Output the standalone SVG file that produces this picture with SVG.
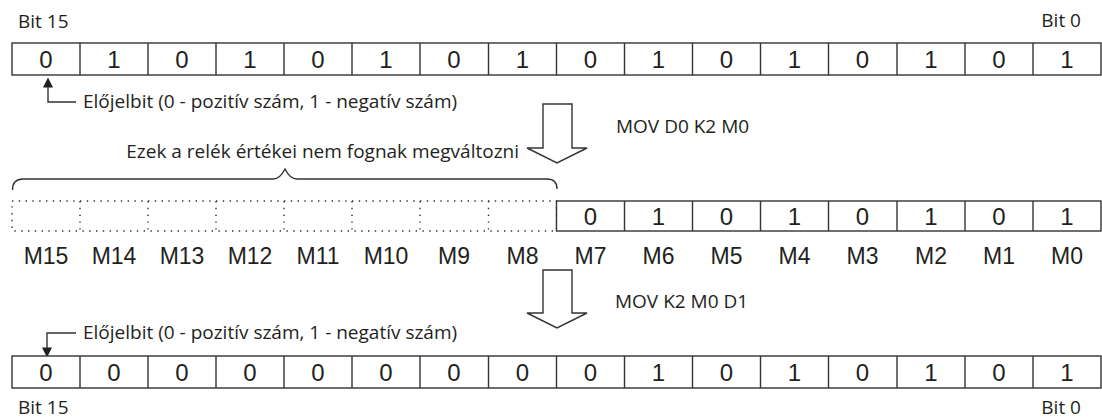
<svg xmlns="http://www.w3.org/2000/svg" width="1102" height="419" viewBox="0 0 1102 419">
<style>
.cell{fill:#fff;stroke:#333;stroke-width:1.4}
.div{stroke:#333;stroke-width:1.4}
.dot{fill:none;stroke:#333;stroke-width:1.4;stroke-dasharray:1.4 5.4}
.d{font-family:"Liberation Sans",Arial,sans-serif;font-size:24px;fill:#231f20;text-anchor:middle}
.m{font-family:"Liberation Sans",Arial,sans-serif;font-size:23px;fill:#231f20;text-anchor:middle}
.l{font-family:"Open Sans","Noto Sans",sans-serif;font-size:19px;fill:#231f20}
.ln{fill:none;stroke:#333;stroke-width:1.4}
.big{fill:#fff;stroke:#333;stroke-width:1.4;stroke-linejoin:miter}
</style>
<defs>
<marker id="ah" viewBox="0 0 10 12" refX="9" refY="6" markerWidth="12" markerHeight="10" markerUnits="userSpaceOnUse" orient="auto">
<path d="M0,0 L12,6 L0,12 z" fill="#231f20"/>
</marker>
</defs>

<g id="labels">
<text class="l" x="18" y="28">Bit 15</text>
<text class="l" x="1081" y="27" text-anchor="end">Bit 0</text>
<text class="l" x="18" y="414">Bit 15</text>
<text class="l" x="1081" y="414" text-anchor="end">Bit 0</text>
</g>

<g id="row-d0">
<rect class="cell" x="12" y="43" width="1089" height="32"/>
<path class="div" d="M80,43V75M148,43V75M216,43V75M284,43V75M352,43V75M420,43V75M488.5,43V75M556.5,43V75M624.5,43V75M692.5,43V75M760.5,43V75M828.5,43V75M897,43V75M965,43V75M1033,43V75"/>
<text class="d" y="68"><tspan x="46">0</tspan><tspan x="114">1</tspan><tspan x="182">0</tspan><tspan x="250">1</tspan><tspan x="318">0</tspan><tspan x="386">1</tspan><tspan x="454">0</tspan><tspan x="522.5">1</tspan><tspan x="590.5">0</tspan><tspan x="658.5">1</tspan><tspan x="726.5">0</tspan><tspan x="794.5">1</tspan><tspan x="862.5">0</tspan><tspan x="931">1</tspan><tspan x="999">0</tspan><tspan x="1067">1</tspan></text>
</g>

<g id="sign-top">
<path class="ln" d="M76,102H48V80" marker-end="url(#ah)"/>
<text class="l" x="83" y="108">Előjelbit (0 - pozitív szám, 1 - negatív szám)</text>
</g>

<g id="arrow-1">
<polygon class="big" points="543,104 572,104 572,148 587,148 557,163 527,148 543,148"/>
<text class="l" x="616" y="133">MOV D0 K2 M0</text>
</g>

<g id="brace">
<text class="l" x="519" y="158" text-anchor="end">Ezek a relék értékei nem fognak megváltozni</text>
<path class="ln" d="M12.5,190 Q12.5,179 23,179 H273 Q280,179 285,169 Q290,179 297,179 H547 Q557,179 557,189"/>
</g>

<g id="row-m">
<rect class="dot" x="12" y="201" width="544.5" height="30"/>
<path class="dot" d="M80,201V231M148,201V231M216,201V231M284,201V231M352,201V231M420,201V231M488.5,201V231"/>
<rect class="cell" x="556.5" y="201" width="544.5" height="30"/>
<path class="div" d="M624.5,201V231M692.5,201V231M760.5,201V231M828.5,201V231M897,201V231M965,201V231M1033,201V231"/>
<text class="d" y="224.5"><tspan x="590.5">0</tspan><tspan x="658.5">1</tspan><tspan x="726.5">0</tspan><tspan x="794.5">1</tspan><tspan x="862.5">0</tspan><tspan x="931">1</tspan><tspan x="999">0</tspan><tspan x="1067">1</tspan></text>
<text class="m" y="264"><tspan x="46">M15</tspan><tspan x="114">M14</tspan><tspan x="182">M13</tspan><tspan x="250">M12</tspan><tspan x="318">M11</tspan><tspan x="386">M10</tspan><tspan x="454">M9</tspan><tspan x="522.5">M8</tspan><tspan x="590.5">M7</tspan><tspan x="658.5">M6</tspan><tspan x="726.5">M5</tspan><tspan x="794.5">M4</tspan><tspan x="862.5">M3</tspan><tspan x="931">M2</tspan><tspan x="999">M1</tspan><tspan x="1067">M0</tspan></text>
</g>

<g id="arrow-2">
<polygon class="big" points="543,270 572,270 572,313 587,313 557,328 527,313 543,313"/>
<text class="l" x="615" y="308">MOV K2 M0 D1</text>
</g>

<g id="sign-bottom">
<path class="ln" d="M76,333H47V355" marker-end="url(#ah)"/>
<text class="l" x="83" y="339">Előjelbit (0 - pozitív szám, 1 - negatív szám)</text>
</g>

<g id="row-d1">
<rect class="cell" x="12" y="356" width="1089" height="32"/>
<path class="div" d="M80,356V388M148,356V388M216,356V388M284,356V388M352,356V388M420,356V388M488.5,356V388M556.5,356V388M624.5,356V388M692.5,356V388M760.5,356V388M828.5,356V388M897,356V388M965,356V388M1033,356V388"/>
<text class="d" y="380.5"><tspan x="46">0</tspan><tspan x="114">0</tspan><tspan x="182">0</tspan><tspan x="250">0</tspan><tspan x="318">0</tspan><tspan x="386">0</tspan><tspan x="454">0</tspan><tspan x="522.5">0</tspan><tspan x="590.5">0</tspan><tspan x="658.5">1</tspan><tspan x="726.5">0</tspan><tspan x="794.5">1</tspan><tspan x="862.5">0</tspan><tspan x="931">1</tspan><tspan x="999">0</tspan><tspan x="1067">1</tspan></text>
</g>
</svg>
